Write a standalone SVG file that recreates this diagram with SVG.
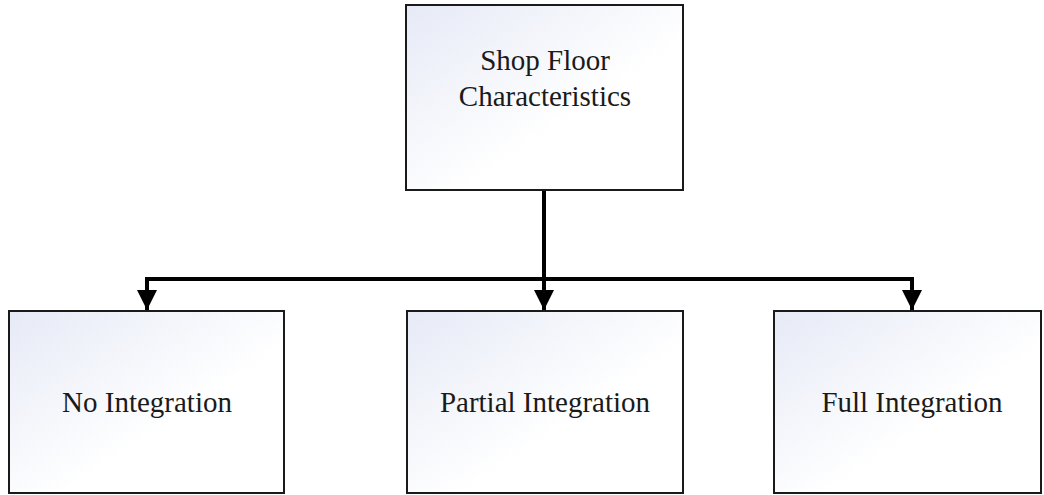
<svg xmlns="http://www.w3.org/2000/svg" width="1044" height="495" viewBox="0 0 1044 495">
<defs>
<linearGradient id="bg" x1="0" y1="0" x2="1" y2="1">
<stop offset="0" stop-color="#e6eaf6"/>
<stop offset="0.6" stop-color="#ffffff"/>
<stop offset="1" stop-color="#ffffff"/>
</linearGradient>
<marker id="arr" markerUnits="userSpaceOnUse" markerWidth="22" markerHeight="20" refX="20" refY="10" orient="auto">
<path d="M0,0 L20,10 L0,20 Z" fill="#000"/>
</marker>
<style>
.box{fill:url(#bg);stroke:#1a1a1a;stroke-width:2}
.lbl{font-size:29px;fill:#1a1a1a;text-anchor:middle}
.con{fill:none;stroke:#000;stroke-width:4}
</style>
</defs>
<rect width="1044" height="495" fill="#fff"/>
<g id="connectors">
<line class="con" x1="544" y1="190" x2="544" y2="279"/>
<path class="con" d="M544,279 L544,310" marker-end="url(#arr)"/>
<path class="con" d="M544,279 L147,279 L147,310" marker-end="url(#arr)"/>
<path class="con" d="M544,279 L912,279 L912,310" marker-end="url(#arr)"/>
</g>
<g id="shop-floor">
<rect class="box" x="406" y="5" width="277" height="185"/>
<text class="lbl" font-family="'Liberation Serif', 'DejaVu Serif', serif" x="545" y="70">Shop Floor</text>
<text class="lbl" font-family="'Liberation Serif', 'DejaVu Serif', serif" x="545" y="106">Characteristics</text>
</g>
<g id="no-integration">
<rect class="box" x="9" y="311" width="275" height="182"/>
<text class="lbl" font-family="'Liberation Serif', 'DejaVu Serif', serif" x="147" y="412">No Integration</text>
</g>
<g id="partial-integration">
<rect class="box" x="407" y="311" width="276" height="182"/>
<text class="lbl" font-family="'Liberation Serif', 'DejaVu Serif', serif" x="545" y="412">Partial Integration</text>
</g>
<g id="full-integration">
<rect class="box" x="774" y="311" width="267" height="182"/>
<text class="lbl" font-family="'Liberation Serif', 'DejaVu Serif', serif" x="912" y="412">Full Integration</text>
</g>
</svg>
